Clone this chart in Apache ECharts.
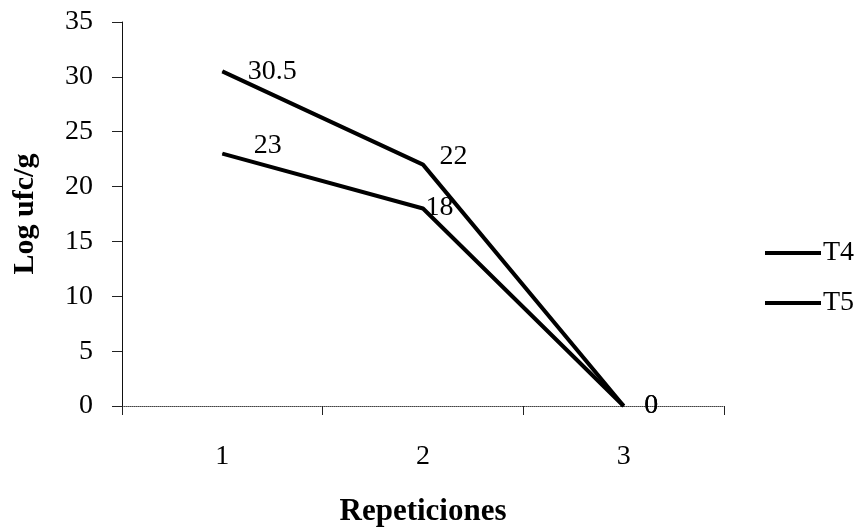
<!DOCTYPE html>
<html><head><meta charset="utf-8">
<script src="https://cdn.jsdelivr.net/npm/echarts@6/dist/echarts.min.js"></script>
<style>html,body{margin:0;padding:0;background:#fff}#c{width:864px;height:529px}</style>
</head><body><div id="c"></div>
<script>
var categories = ['1', '2', '3'];
var seriesNames = ['T4', 'T5'];
var t4 = [30.5, 22, 0];
var t5 = [23, 18, 0];
var yTicks = [0, 5, 10, 15, 20, 25, 30, 35];

var font = '"Liberation Serif", "Times New Roman", serif';
var chart = echarts.init(document.getElementById('c'));

function mkData(vals, offsets) {
  return vals.map(function (v, i) {
    return { value: v, label: { offset: offsets[i] } };
  });
}

var labelStyle = { show: true, position: 'right', distance: 0, fontFamily: font, fontSize: 28, color: '#000' };

chart.setOption({
  animation: false,
  grid: { left: 122, right: 140, top: 22, bottom: 123, containLabel: false, outerBoundsMode: 'none' },
  legend: {
    orient: 'vertical', left: 760, top: 234,
    icon: 'rect', itemWidth: 56, itemHeight: 4, itemGap: 22,
    textStyle: { fontFamily: font, fontSize: 28, color: '#000', padding: [0, 0, 0, -3] },
    data: seriesNames
  },
  xAxis: {
    type: 'category', data: categories, boundaryGap: true,
    name: 'Repeticiones', nameLocation: 'middle', nameGap: 90,
    nameTextStyle: { fontFamily: font, fontSize: 31, fontWeight: 'bold', color: '#000' },
    axisLine: { lineStyle: { color: '#444', width: 1, type: 'dotted' } },
    axisTick: { show: true, length: 9, lineStyle: { color: '#222' } },
    axisLabel: { fontFamily: font, fontSize: 28, color: '#000', margin: 37 }
  },
  yAxis: {
    type: 'value', min: 0, max: 35, interval: 5,
    name: 'Log ufc/g', nameLocation: 'middle', nameGap: 82, nameRotate: 90,
    nameTextStyle: { fontFamily: font, fontSize: 30, fontWeight: 'bold', color: '#000' },
    axisLine: { show: true, lineStyle: { color: '#111', width: 1 } },
    axisTick: { show: true, length: 10, lineStyle: { color: '#222' } },
    splitLine: { show: false },
    axisLabel: { fontFamily: font, fontSize: 28, color: '#000', margin: 29,
      formatter: function (v) { return yTicks.indexOf(v) >= 0 ? String(v) : ''; } }
  },
  series: [
    {
      name: 'T4', type: 'line', data: mkData(t4, [[25, 0], [16, -8], [20, 0]]),
      symbol: 'circle', symbolSize: 1, showSymbol: true,
      lineStyle: { color: '#000', width: 4 }, itemStyle: { color: '#000' },
      label: labelStyle
    },
    {
      name: 'T5', type: 'line', data: mkData(t5, [[31, -8], [2, -1], [20, 0]]),
      symbol: 'circle', symbolSize: 1, showSymbol: true,
      lineStyle: { color: '#000', width: 4 }, itemStyle: { color: '#000' },
      label: labelStyle
    }
  ]
});
</script></body></html>
